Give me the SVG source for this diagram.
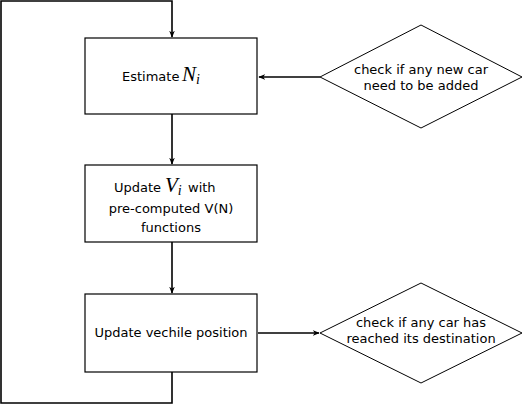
<svg xmlns="http://www.w3.org/2000/svg" width="523" height="405" viewBox="0 0 523 405">
<defs>
<marker id="arr" viewBox="0 0 10 10" refX="9" refY="5" markerWidth="7" markerHeight="7" markerUnits="userSpaceOnUse" orient="auto">
<path d="M0,1 L10,5 L0,9 L3,5 Z" fill="#000"/>
</marker>
</defs>
<style>
.box{fill:#fff;stroke:#000;stroke-width:1.2}
.dia{fill:#fff;stroke:#000;stroke-width:1}
.t{font-family:"DejaVu Sans",sans-serif;font-size:13px;fill:#000;text-anchor:middle}
.s{font-family:"DejaVu Sans",sans-serif;font-size:13px;fill:#000}
.m{font-family:"Liberation Serif","DejaVu Serif",serif;font-style:italic;fill:#000}
.c{fill:none;stroke:#000;stroke-width:1.6}
</style>
<rect width="523" height="405" fill="#fff"/>
<g id="connectors">
<path class="c" d="M172,372 V403 H1 V1 H172 V37" marker-end="url(#arr)"/>
<path class="c" d="M172,114 V164" marker-end="url(#arr)"/>
<path class="c" d="M172,242 V293" marker-end="url(#arr)"/>
<path class="c" d="M320,77 H259" marker-end="url(#arr)"/>
<path class="c" d="M258,333 H319" marker-end="url(#arr)"/>
</g>
<g id="estimate">
<rect class="box" x="85" y="38" width="172" height="76"/>
<text class="s" x="122" y="81">Estimate</text>
<text class="m" x="182" y="81" font-size="21">N<tspan font-size="14" dy="3">i</tspan></text>
</g>
<g id="updateV">
<rect class="box" x="85" y="165" width="172" height="77"/>
<text class="s" x="114" y="192">Update</text>
<text class="m" x="165" y="192" font-size="21">V<tspan font-size="14" dy="3">i</tspan></text>
<text class="s" x="188" y="192">with</text>
<text class="t" x="171" y="213">pre-computed V(N)</text>
<text class="t" x="171" y="232">functions</text>
</g>
<g id="updatePos">
<rect class="box" x="85" y="294" width="172" height="78"/>
<text class="t" x="171" y="337">Update vechile position</text>
</g>
<g id="checkNew">
<polygon class="dia" points="320,77 421,25 522,77 421,128"/>
<text class="t" x="421" y="74">check if any new car</text>
<text class="t" x="421" y="90">need to be added</text>
</g>
<g id="checkDest">
<polygon class="dia" points="320,333 421,283 522,333 421,383"/>
<text class="t" x="421" y="327">check if any car has</text>
<text class="t" x="421" y="343">reached its destination</text>
</g>
</svg>
